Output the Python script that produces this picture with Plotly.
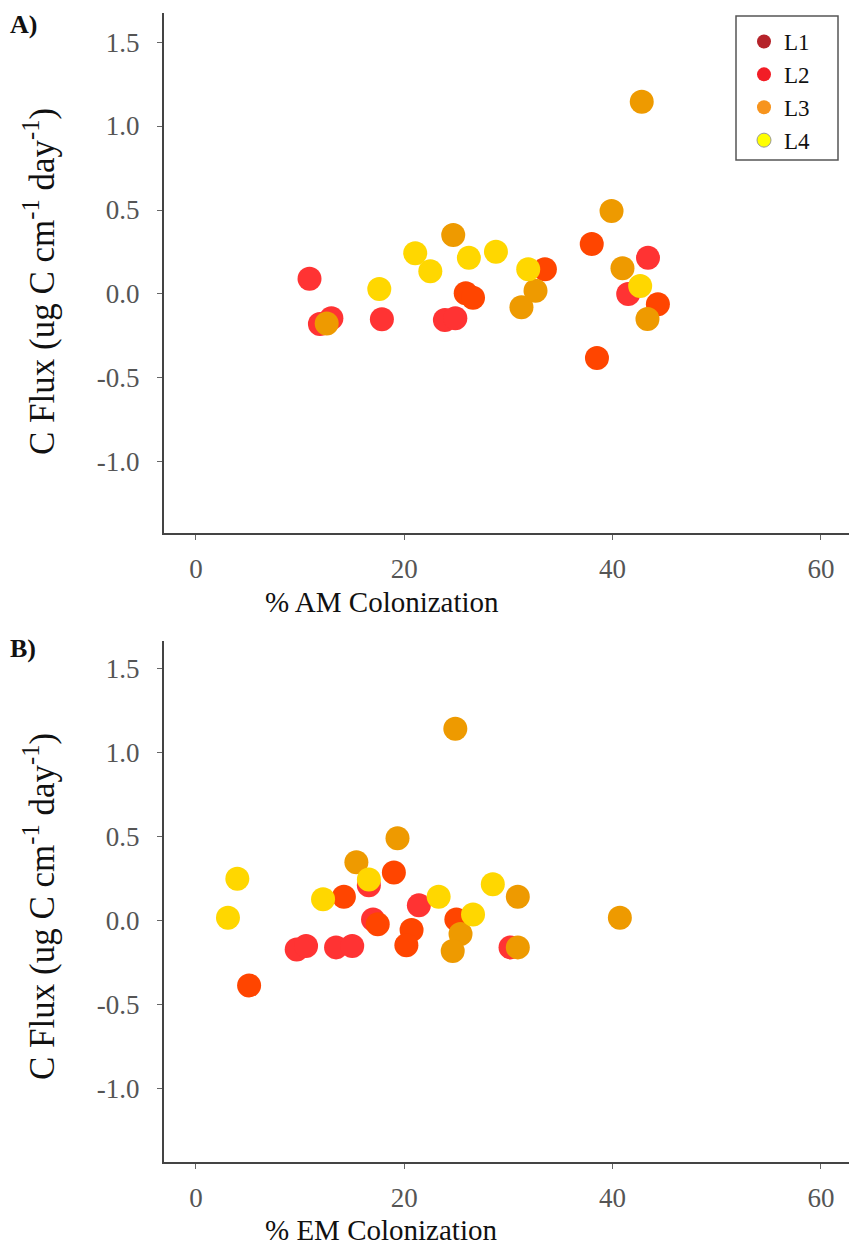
import plotly.graph_objects as go

W, H = 849, 1247

# Layer names and colours
layers = ["L1", "L2", "L3", "L4"]
point_colors = ["#FF3333", "#FF4500", "#EE9A00", "#FFD700"]
legend_colors = ["#B5232A", "#F21D26", "#F7941D", "#FFFF00"]

# Panel A: % AM colonization vs C flux
am_L1_x = [43.4, 41.5, 23.9, 24.9, 17.85, 10.9, 11.9, 13.0]
am_L1_y = [0.216, 0.0, -0.155, -0.145, -0.151, 0.091, -0.179, -0.145]
am_L2_x = [38.0, 44.35, 38.5, 33.5, 25.9, 26.6]
am_L2_y = [0.298, -0.061, -0.381, 0.147, 0.004, -0.022]
am_L3_x = [42.8, 39.9, 40.95, 43.35, 32.6, 31.25, 24.7, 12.55]
am_L3_y = [1.145, 0.494, 0.153, -0.149, 0.02, -0.079, 0.351, -0.175]
am_L4_x = [42.65, 31.9, 28.8, 26.2, 21.05, 22.5, 17.6]
am_L4_y = [0.048, 0.147, 0.252, 0.216, 0.242, 0.135, 0.03]

# Panel B: % EM colonization vs C flux
em_L1_x = [16.6, 21.4, 17.0, 30.2, 9.67, 10.57, 13.45, 15.0]
em_L1_y = [0.212, 0.092, 0.008, -0.158, -0.17, -0.15, -0.158, -0.15]
em_L2_x = [19.0, 14.2, 17.45, 20.7, 20.2, 25.0, 5.1]
em_L2_y = [0.288, 0.143, -0.02, -0.055, -0.145, 0.008, -0.385]
em_L3_x = [24.9, 19.35, 15.4, 30.9, 40.7, 25.4, 24.65, 30.9]
em_L3_y = [1.143, 0.492, 0.349, 0.143, 0.018, -0.079, -0.179, -0.158]
em_L4_x = [16.6, 3.97, 3.07, 12.2, 23.3, 28.5, 26.6]
em_L4_y = [0.246, 0.25, 0.018, 0.129, 0.143, 0.217, 0.038]

x_ticks = [0, 20, 40, 60]
y_ticks = [-1.0, -0.5, 0.0, 0.5, 1.0, 1.5]
y_ticktext = ["-1.0", "-0.5", "0.0", "0.5", "1.0", "1.5"]

FONT = "Liberation Serif, Times New Roman, DejaVu Serif, serif"


def fx(px):
    return px / W


def fy(py):
    return 1 - py / H


fig = go.Figure()

am = [(am_L1_x, am_L1_y), (am_L2_x, am_L2_y), (am_L3_x, am_L3_y), (am_L4_x, am_L4_y)]
em = [(em_L1_x, em_L1_y), (em_L2_x, em_L2_y), (em_L3_x, em_L3_y), (em_L4_x, em_L4_y)]

for i, (xs, ys) in enumerate(am):
    fig.add_trace(go.Scatter(
        x=xs, y=ys, mode="markers", name=layers[i], showlegend=False,
        marker=dict(size=24, color=point_colors[i], line=dict(width=0)),
        xaxis="x", yaxis="y"))

for i, (xs, ys) in enumerate(em):
    fig.add_trace(go.Scatter(
        x=xs, y=ys, mode="markers", name=layers[i], showlegend=False,
        marker=dict(size=24, color=point_colors[i], line=dict(width=0)),
        xaxis="x2", yaxis="y2"))

# Legend entries
for i, name in enumerate(layers):
    fig.add_trace(go.Scatter(
        x=[None], y=[None], mode="markers", name=name, showlegend=True,
        marker=dict(size=14, color=legend_colors[i],
                    line=dict(width=1 if i == 3 else 0, color="#999999")),
        xaxis="x", yaxis="y"))

axis_common = dict(
    showline=True, linecolor="#444444", linewidth=1.5,
    ticks="outside", ticklen=5, tickwidth=1.3, tickcolor="#666666",
    tickfont=dict(family=FONT, size=27, color="#555555"),
    showgrid=False, zeroline=False, mirror=False,
)

x_dom = [fx(163.7), 1.0]
fig.update_layout(
    width=W, height=H,
    margin=dict(l=0, r=0, t=0, b=0),
    paper_bgcolor="white", plot_bgcolor="white",
    xaxis=dict(domain=x_dom, anchor="y", range=[-3.1, 62.7],
               tickvals=x_ticks, ticklabelstandoff=6, **axis_common),
    yaxis=dict(domain=[fy(533), fy(13)], anchor="x", range=[-1.423, 1.673],
               tickvals=y_ticks, ticktext=y_ticktext, ticklabelstandoff=12,
               **axis_common),
    xaxis2=dict(domain=x_dom, anchor="y2", range=[-3.1, 62.7],
                tickvals=x_ticks, ticklabelstandoff=6, **axis_common),
    yaxis2=dict(domain=[fy(1162), fy(641)], anchor="x2", range=[-1.435, 1.665],
                tickvals=y_ticks, ticktext=y_ticktext, ticklabelstandoff=12,
                **axis_common),
    legend=dict(x=fx(744), y=fy(20), xanchor="left", yanchor="top",
                bgcolor="rgba(0,0,0,0)", borderwidth=0,
                font=dict(family=FONT, size=23, color="#111111"),
                tracegroupgap=0),
    showlegend=True,
)

# Legend frame
fig.add_shape(type="rect", xref="paper", yref="paper",
              x0=fx(736), x1=fx(838), y0=fy(160), y1=fy(16),
              line=dict(color="#555555", width=1.5), fillcolor="white",
              layer="below")

ytitle = "C Flux (ug C cm<sup>-1</sup> day<sup>-1</sup>)"
annotations = [
    dict(text="<b>A)</b>", x=fx(8), y=fy(24), xanchor="left", yanchor="middle",
         font=dict(family=FONT, size=26, color="#111111")),
    dict(text="<b>B)</b>", x=fx(8), y=fy(648), xanchor="left", yanchor="middle",
         font=dict(family=FONT, size=26, color="#111111")),
    dict(text="% AM Colonization", x=fx(263), y=fy(602), xanchor="left",
         yanchor="middle", font=dict(family=FONT, size=29, color="#111111")),
    dict(text="% EM Colonization", x=fx(263), y=fy(1230), xanchor="left",
         yanchor="middle", font=dict(family=FONT, size=29, color="#111111")),
    dict(text=ytitle, x=fx(40), y=fy(282), textangle=-90, xanchor="center",
         yanchor="middle", font=dict(family=FONT, size=35, color="#111111")),
    dict(text=ytitle, x=fx(40), y=fy(907), textangle=-90, xanchor="center",
         yanchor="middle", font=dict(family=FONT, size=35, color="#111111")),
]
for a in annotations:
    a.update(xref="paper", yref="paper", showarrow=False)
fig.update_layout(annotations=annotations)

fig.write_html("out.html")
